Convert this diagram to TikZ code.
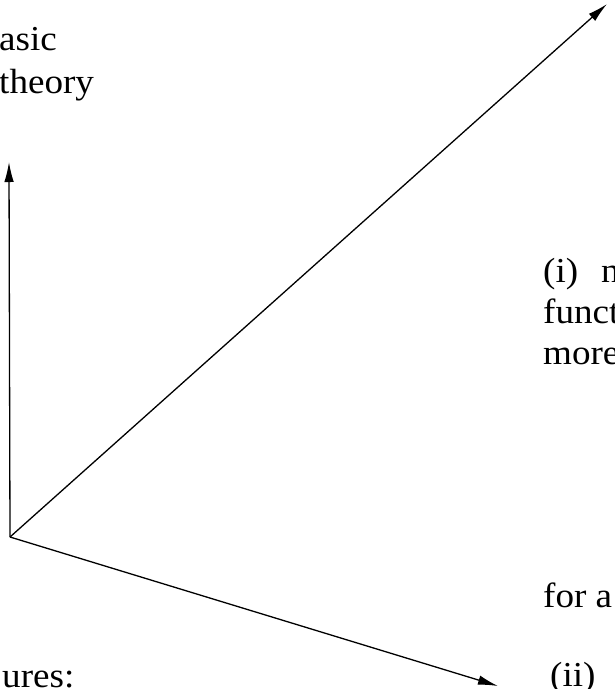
\documentclass[tikz,border=0pt]{standalone}
\usepackage{fontspec}
\setmainfont{Liberation Serif}[FakeStretch=1.06]
\usetikzlibrary{arrows.meta}
\begin{document}
\begin{tikzpicture}[x=1pt,y=-1pt,
  txt/.style={anchor=base west, inner sep=0pt, font=\fontsize{35}{42}\selectfont},
  arr/.style={-{Latex[length=20pt,width=9.5pt]}, line width=1.3pt}]
\useasboundingbox (0,0) rectangle (615,689);
\clip (0,0) rectangle (615,689);
\coordinate (O) at (10,537);
\coordinate (U) at (9,162);
\coordinate (D) at (607,4);
\coordinate (R) at (498,686);
\draw[arr] (O) -- (U);
\draw[arr] (O) -- (D);
\draw[arr] (O) -- (R);
\node[txt] (t1) at (-1,50) {asic};
\node[txt] (t2) at (-1,93) {theory};
\node[txt] (t3) at (543,282) {(i)};
\node[txt] (t4) at (601,282) {n};
\node[txt] (t5) at (543,323) {funct};
\node[txt] (t6) at (543,364) {more};
\node[txt] (t7) at (543,607) {for a};
\node[txt] (t8) at (550,686) {(ii)};
\node[txt] (t9) at (2,687) {ures:};
\end{tikzpicture}
\end{document}
